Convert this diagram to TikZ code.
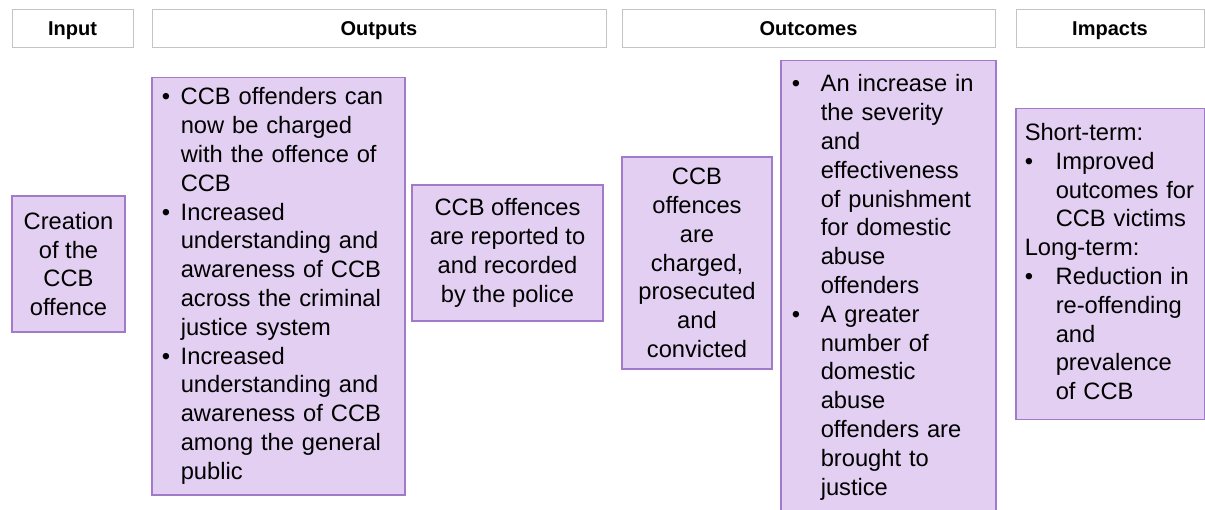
\documentclass[tikz,border=0pt]{standalone}
\usepackage{fontspec}
\setmainfont{Liberation Sans}
\definecolor{boxfill}{RGB}{227,207,241}
\definecolor{boxline}{RGB}{162,122,202}
\definecolor{headline}{RGB}{196,196,196}

\begin{document}
\begin{tikzpicture}[x=1pt,y=-1pt,
  head/.style={draw=headline,line width=1pt,fill=white,minimum height=38pt,
    inner sep=0pt,text height=16.5pt,text depth=2.5pt,
    font=\fontsize{20}{24}\selectfont\bfseries},
  purplebox/.style={draw=boxline,line width=1.5pt,fill=boxfill,inner ysep=0pt,
    font=\fontsize{23.7}{28.8}\selectfont}]
  % page is 1205 x 510, the tall outcomes box runs off the bottom
  \clip (0,0) rectangle (1205,510);

  % column headers
  \node[head,minimum width=121pt] (input) at (72.5,29) {Input};
  \node[head,minimum width=454pt] (outputs) at (379,29) {Outputs};
  \node[head,minimum width=373pt] (outcomes) at (808.5,29) {Outcomes};
  \node[head,minimum width=188pt] (impacts) at (1110,29) {Impacts};

  % input
  \node[purplebox,align=center,minimum width=113pt,minimum height=136pt] (creation)
    at (68.5,264) {Creation\\of the\\CCB\\offence};

  % outputs
  \node[purplebox,anchor=north west,inner xsep=10pt,text width=233pt,align=left,
    minimum height=417pt] (outlist) at (151,77) {%
    \begin{tabular}{@{}p{19pt}@{}l@{}}
      \textbullet & CCB offenders can\\
                  & now be charged\\
                  & with the offence of\\
                  & CCB\\
      \textbullet & Increased\\
                  & understanding and\\
                  & awareness of CCB\\
                  & across the criminal\\
                  & justice system\\
      \textbullet & Increased\\
                  & understanding and\\
                  & awareness of CCB\\
                  & among the general\\
                  & public
    \end{tabular}};
  \node[purplebox,align=center,minimum width=191pt,minimum height=136pt] (reported)
    at (507.5,253) {CCB offences\\are reported to\\and recorded\\by the police};

  % outcomes
  \node[purplebox,align=center,minimum width=150pt,minimum height=212pt] (charged)
    at (697,263) {CCB\\offences\\are\\charged,\\prosecuted\\and\\convicted};
  \node[purplebox,anchor=north west,inner xsep=11pt,inner ysep=11pt,text width=193pt,
    align=left] (outclist) at (780,60) {%
    \begin{tabular}{@{}p{29pt}@{}l@{}}
      \textbullet & An increase in\\
                  & the severity\\
                  & and\\
                  & effectiveness\\
                  & of punishment\\
                  & for domestic\\
                  & abuse\\
                  & offenders\\
      \textbullet & A greater\\
                  & number of\\
                  & domestic\\
                  & abuse\\
                  & offenders are\\
                  & brought to\\
                  & justice
    \end{tabular}};

  % impacts
  \node[purplebox,anchor=north west,inner xsep=9pt,text width=171pt,align=left,
    minimum height=311pt] (implist) at (1015,108) {%
    \begin{tabular}{@{}p{31pt}@{}l@{}}
      \multicolumn{2}{@{}l@{}}{Short-term:}\\
      \textbullet & Improved\\
                  & outcomes for\\
                  & CCB victims\\
      \multicolumn{2}{@{}l@{}}{Long-term:}\\
      \textbullet & Reduction in\\
                  & re-offending\\
                  & and\\
                  & prevalence\\
                  & of CCB
    \end{tabular}};
\end{tikzpicture}
\end{document}
